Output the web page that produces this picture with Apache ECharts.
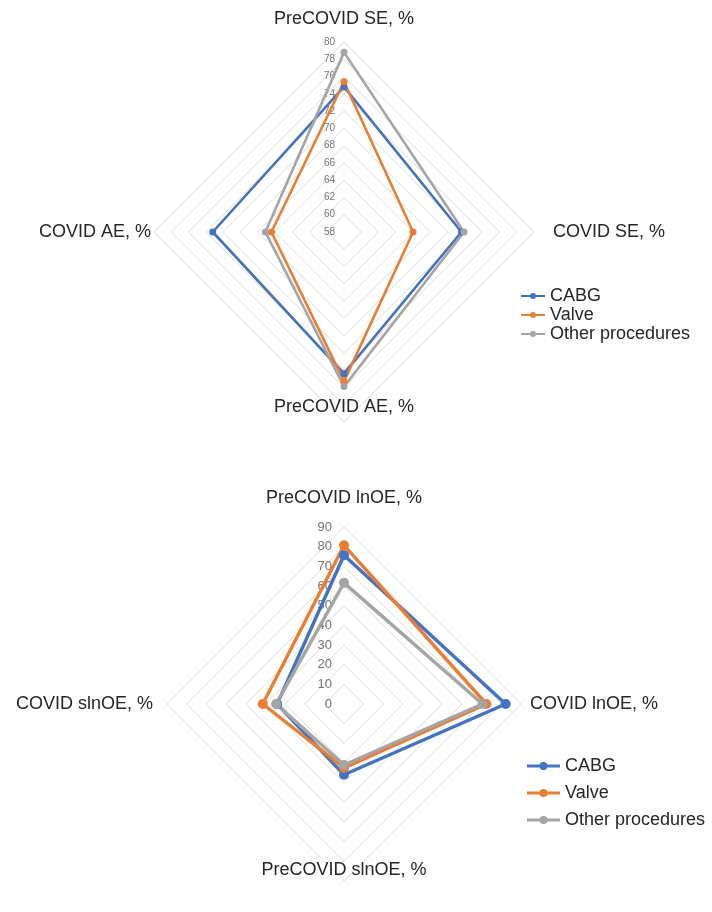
<!DOCTYPE html>
<html>
<head>
<meta charset="utf-8">
<script src="https://cdn.jsdelivr.net/npm/echarts@6/dist/echarts.min.js"></script>
<style>
  html, body { margin: 0; padding: 0; background: #ffffff; }
  #chart { width: 712px; height: 912px; }
</style>
</head>
<body>
<div id="chart"></div>
<script>
// Group names shared by both radars
const groups = ['CABG', 'Valve', 'Other procedures'];
const groupColors = ['#4472C4', '#ED7D31', '#A5A5A5'];

// Upper radar: axes listed counter-clockwise from the top (top, left, bottom, right)
const seAxes = ['PreCOVID SE, %', 'COVID AE, %', 'PreCOVID AE, %', 'COVID SE, %'];
const seMin = 58;
const seMax = 80;
const seCABG = [74.8, 73.2, 74.4, 71.6];
const seValve = [75.4, 66.4, 75.3, 66.0];
const seOther = [78.8, 67.1, 75.9, 71.9];

// Lower radar: axes listed counter-clockwise from the top (top, left, bottom, right)
const oeAxes = ['PreCOVID lnOE, %', 'COVID slnOE, %', 'PreCOVID slnOE, %', 'COVID lnOE, %'];
const oeMin = 0;
const oeMax = 90;
const oeCABG = [75.6, 34.0, 36.0, 82.2];
const oeValve = [80.7, 41.3, 32.5, 72.4];
const oeOther = [61.6, 34.5, 31.0, 70.4];

const FONT = '"Liberation Sans", Arial, Helvetica, sans-serif';
const nameStyle = { color: '#262626', fontSize: 18, fontFamily: FONT };

// gap between each axis end and its title, in the same order as the axes
const seNameGaps = [14, 3, -24, 19];
const oeNameGaps = [20, 14, -20, 9];

function buildIndicators(names, min, max, gaps, labelSize, labelMargin) {
  return names.map((name, i) => ({
    name: name,
    min: min,
    max: max,
    nameGap: gaps[i],
    // tick values are printed along the top axis only
    axisLabel: i === 0
      ? { show: true, fontSize: labelSize, color: '#767676', fontFamily: FONT, margin: labelMargin }
      : { show: false }
  }));
}

function buildItems(valueSets) {
  return valueSets.map((vals, i) => ({
    name: groups[i],
    value: vals,
    itemStyle: { color: groupColors[i] },
    lineStyle: { color: groupColors[i] }
  }));
}

const ringStyle = {
  splitLine: { show: true, lineStyle: { color: '#dcdcdc', width: 1 } },
  splitArea: { show: false },
  axisLine: { show: false },
  axisTick: { show: false },
  axisName: nameStyle
};

const smallIcon = 'path://M0,2L24,2L24,4L0,4Z M15,3A3,3 0 1 1 15,2.99Z';
const largeIcon = 'path://M0,2.5L33,2.5L33,5.5L0,5.5Z M20.5,4A4,4 0 1 1 20.5,3.99Z';

const chart = echarts.init(document.getElementById('chart'), null, { renderer: 'canvas' });

chart.setOption({
  backgroundColor: '#ffffff',
  animation: false,
  textStyle: { fontFamily: FONT },
  legend: [
    {
      data: groups,
      orient: 'vertical',
      left: 516,
      top: 282,
      itemWidth: 24,
      itemHeight: 6,
      itemGap: 1,
      icon: smallIcon,
      textStyle: { fontSize: 18, color: '#262626', fontFamily: FONT }
    },
    {
      data: groups,
      orient: 'vertical',
      left: 522,
      top: 752,
      itemWidth: 33,
      itemHeight: 8,
      itemGap: 9,
      icon: largeIcon,
      textStyle: { fontSize: 18, color: '#262626', fontFamily: FONT }
    }
  ],
  radar: [
    Object.assign({
      center: [344, 232],
      radius: 190,
      startAngle: 90,
      shape: 'polygon',
      splitNumber: (seMax - seMin) / 2,
      indicator: buildIndicators(seAxes, seMin, seMax, seNameGaps, 10, 9)
    }, ringStyle),
    Object.assign({
      center: [344, 704],
      radius: 177,
      startAngle: 90,
      shape: 'polygon',
      splitNumber: (oeMax - oeMin) / 10,
      indicator: buildIndicators(oeAxes, oeMin, oeMax, oeNameGaps, 13, 12)
    }, ringStyle)
  ],
  series: [
    {
      type: 'radar',
      radarIndex: 0,
      symbol: 'circle',
      symbolSize: 7,
      lineStyle: { width: 2.6 },
      data: buildItems([seCABG, seValve, seOther])
    },
    {
      type: 'radar',
      radarIndex: 1,
      symbol: 'circle',
      symbolSize: 10,
      lineStyle: { width: 3.4 },
      data: buildItems([oeCABG, oeValve, oeOther])
    }
  ]
});
</script>
</body>
</html>
